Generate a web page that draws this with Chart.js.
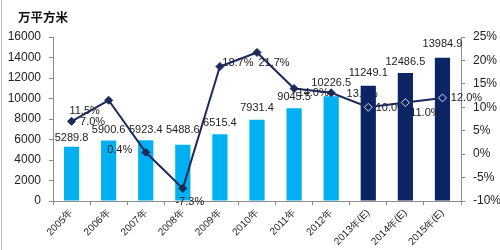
<!DOCTYPE html>
<html>
<head>
<meta charset="utf-8">
<script src="https://cdn.jsdelivr.net/npm/chart.js@4.4.1/dist/chart.umd.min.js"></script>
<style>
  html, body { margin: 0; padding: 0; background: #fff; }
  #wrap { width: 500px; height: 250px; position: relative; }
</style>
</head>
<body>
<div id="wrap"><canvas id="chart" width="500" height="250"></canvas></div>
<script>
  const categories = ['2005年', '2006年', '2007年', '2008年', '2009年', '2010年', '2011年', '2012年', '2013年(E)', '2014年(E)', '2015年(E)'];
  const areaValues = [5289.8, 5900.6, 5923.4, 5488.6, 6515.4, 7931.4, 9045.5, 10226.5, 11249.1, 12486.5, 13984.9];
  const growthRates = [7.0, 11.5, 0.4, -7.3, 18.7, 21.7, 14.0, 13.1, 10.0, 11.0, 12.0];
  const leftTicks = [0, 2000, 4000, 6000, 8000, 10000, 12000, 14000, 16000];
  const rightTicks = [-10, -5, 0, 5, 10, 15, 20, 25];

  // label nudges (pixels), the way the labels sit in the original
  const growthLabelShift = [[21, 1], [-24, 11], [-26, -2], [7, 14], [18, -4], [17, 11], [19, 4], [31, 1], [23, 1], [20, 10], [24, 0]];
  const barLabelShift = [-9, -11, -10, -15, -11, -12, -11, -13, -13, -11, -14];
  // these two growth labels end up half hidden behind the next bar in the original
  const labelsUnderBars = [7, 8];

  const lightBlue = '#00B0F0';
  const navy = '#0B2466';
  const lineColor = '#1B2A5A';
  const numFont = '"Liberation Sans Narrow", "Liberation Sans", Arial, sans-serif';

  const isEstimate = categories.map(c => c.indexOf('(E)') >= 0);

  function drawGrowthLabels(chart, under) {
    const ctx = chart.ctx;
    ctx.save();
    ctx.fillStyle = '#222';
    ctx.font = '11px ' + numFont;
    ctx.textAlign = 'center';
    ctx.textBaseline = 'middle';
    chart.getDatasetMeta(1).data.forEach((p, i) => {
      if ((labelsUnderBars.indexOf(i) >= 0) !== under) return;
      const s = growthLabelShift[i];
      ctx.fillText(growthRates[i].toFixed(1) + '%', p.x + s[0], p.y + s[1]);
    });
    ctx.restore();
  }

  const labelPlugin = {
    id: 'labels',
    beforeDatasetsDraw(chart) {
      const ctx = chart.ctx;
      ctx.save();
      ctx.fillStyle = '#222';
      ctx.font = '11px ' + numFont;
      ctx.textAlign = 'center';
      ctx.textBaseline = 'middle';
      chart.getDatasetMeta(0).data.forEach((bar, i) => {
        ctx.fillText(areaValues[i].toFixed(1), bar.x, bar.y + barLabelShift[i]);
      });
      ctx.restore();
      drawGrowthLabels(chart, true);
    },
    afterDatasetDraw(chart, args) {
      // bars are done, line not yet drawn
      if (args.index === 0) drawGrowthLabels(chart, false);
    },
    afterDraw(chart) {
      const ctx = chart.ctx;
      ctx.save();
      ctx.fillStyle = '#111';
      ctx.font = 'bold 12.5px "Noto Sans CJK SC", sans-serif';
      ctx.textAlign = 'left';
      ctx.textBaseline = 'middle';
      ctx.fillText('万平方米', 18, 17);
      ctx.strokeStyle = '#bbb';
      ctx.lineWidth = 1;
      ctx.beginPath();
      ctx.moveTo(1.5, 0);
      ctx.lineTo(1.5, 250);
      ctx.stroke();
      ctx.restore();
    }
  };

  const axisGrey = '#8c8c8c';

  new Chart(document.getElementById('chart').getContext('2d'), {
    type: 'bar',
    data: {
      labels: categories,
      datasets: [{
        type: 'bar',
        data: areaValues,
        backgroundColor: isEstimate.map(e => e ? navy : lightBlue),
        categoryPercentage: 1,
        barPercentage: 0.41,
        yAxisID: 'y',
        order: 2
      }, {
        type: 'line',
        data: growthRates,
        borderColor: lineColor,
        borderWidth: 2,
        tension: 0,
        pointStyle: 'rectRot',
        pointRadius: 4,
        pointBorderWidth: 1,
        pointBackgroundColor: isEstimate.map(e => e ? navy : lineColor),
        pointBorderColor: isEstimate.map(e => e ? '#d8deea' : lineColor),
        yAxisID: 'y1',
        order: 1
      }]
    },
    options: {
      responsive: false,
      animation: false,
      layout: { padding: { top: 37, left: 0, right: 0, bottom: 0 } },
      plugins: { legend: { display: false }, tooltip: { enabled: false } },
      scales: {
        x: {
          grid: { display: true, drawOnChartArea: false, offset: true, tickLength: 4, color: axisGrey },
          border: { display: true, color: axisGrey },
          ticks: {
            color: '#222',
            font: { size: 10, family: numFont },
            minRotation: 45,
            maxRotation: 45,
            padding: 2
          },
          afterFit(scale) { scale.height = 49; }
        },
        y: {
          position: 'left',
          min: 0,
          max: 16000,
          afterBuildTicks(scale) { scale.ticks = leftTicks.map(v => ({ value: v })); },
          grid: { display: true, drawOnChartArea: false, tickLength: 4, color: axisGrey },
          border: { display: true, color: axisGrey },
          ticks: { color: '#222', font: { size: 12, family: numFont }, padding: 8, callback: v => String(v) },
          afterFit(scale) { scale.width = 53; }
        },
        y1: {
          position: 'right',
          min: -10,
          max: 25,
          afterBuildTicks(scale) { scale.ticks = rightTicks.map(v => ({ value: v })); },
          grid: { display: true, drawOnChartArea: false, tickLength: 4, color: axisGrey },
          border: { display: true, color: axisGrey },
          ticks: { color: '#222', font: { size: 12, family: numFont }, padding: 8, callback: v => v + '%' },
          afterFit(scale) { scale.width = 39; }
        }
      }
    },
    plugins: [labelPlugin]
  });
</script>
</body>
</html>
